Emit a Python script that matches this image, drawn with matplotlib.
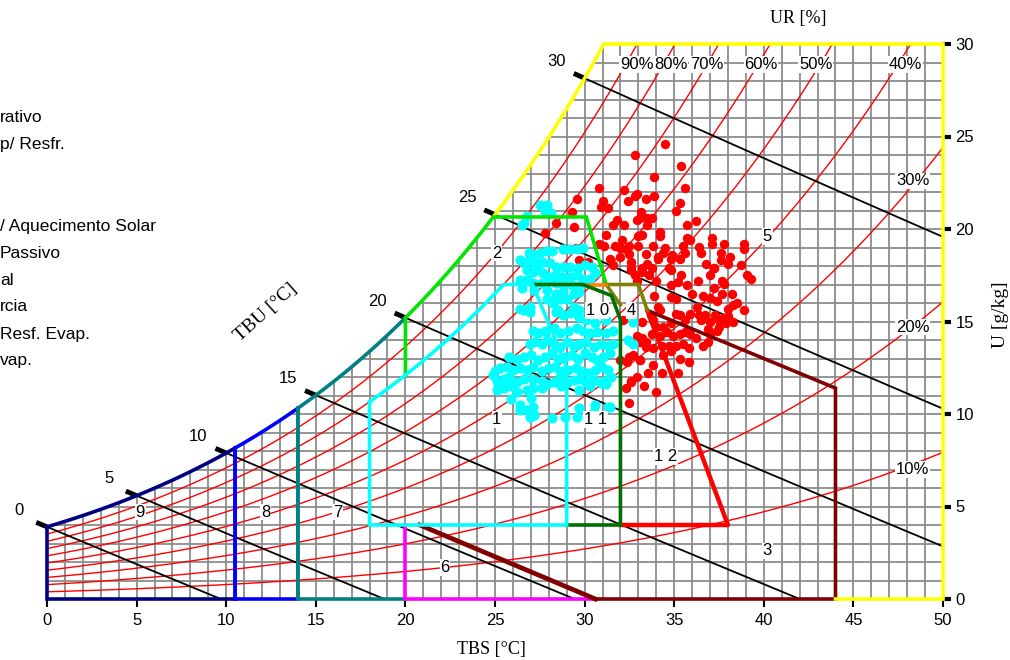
import numpy as np
import matplotlib.pyplot as plt
from matplotlib.patches import Polygon

plt.rcParams['font.family'] = ['Liberation Sans', 'DejaVu Sans']

# pressao atmosferica do local (kPa)
P_ATM = 98.0

# --- dados horarios (TBS [C], U [g/kg]) ---
red_tbs = [34.5, 32.8, 35.4, 33.9, 30.8, 32.2, 35.6, 32.9, 32.8, 29.6, 31.0, 32.4, 33.4, 33.9,
           30.9, 31.3, 35.3, 35.1, 29.3, 33.15, 31.8, 32.9, 33.5, 33.75, 33.1, 31.6, 32.2, 33.5,
           35.7, 36.2, 29.4, 31.2, 32.1, 33.0, 33.2, 34.2, 34.2, 35.7, 35.9, 37.1, 37.1, 37.8,
           38.9, 38.9, 30.8, 31.1, 31.7, 32.0, 32.3, 32.5, 33.0, 33.8, 34.5, 35.5, 36.4, 36.5,
           34.4, 34.1, 34.9, 35.6, 37.6, 38.1, 33.4, 32.45, 32.0, 31.4, 32.6, 33.5, 34.1, 34.8,
           35.3, 36.8, 37.6, 38.0, 31.6, 32.6, 33.2, 34.7, 37.2, 38.7, 29.7, 30.2, 29.5, 27.8,
           28.4,
           32.6, 33.2, 32.8, 33.75, 34.8, 35.4, 35.7, 36.35, 37.0, 37.2, 37.65, 37.8, 38.2, 39.05,
           39.3, 37.2, 36.6, 37.0, 37.4, 37.65, 36.0, 35.1, 34.8, 33.9, 34.1, 34.2, 33.7, 33.8,
           33.2, 34.0, 34.4, 34.8, 35.1, 35.3, 35.6, 35.9, 36.3, 36.4, 36.5, 36.7, 37.0, 37.3,
           37.5, 37.75, 37.9, 38.3, 38.0, 38.3, 37.4, 37.0, 36.9, 36.6, 36.2, 35.9, 35.6, 35.3,
           34.95, 34.6, 34.2, 33.75, 33.2, 33.1, 33.4, 33.8, 34.3, 34.7, 35.1, 35.5, 35.8, 34.8,
           32.7, 33.1, 32.35, 31.95, 33.8, 34.4, 35.3, 35.8, 34.3, 35.2, 32.6, 34.0, 32.45, 33.6,
           34.0, 35.2, 34.8, 32.9,
           32.16, 32.9, 33.4, 32.5, 33.1, 32.6, 32.3, 32.9, 33.55, 33.3,
           38.5, 38.9, 38.0, 37.5, 36.9]
red_u = [24.6, 24.0, 23.4, 22.8, 22.2, 22.1, 22.2, 21.9, 21.8, 21.6, 21.5, 21.5, 21.6, 21.8,
         21.2, 21.15, 21.4, 21.0, 20.9, 20.9, 20.5, 20.5, 20.6, 20.6, 20.6, 20.2, 20.2, 20.2,
         20.2, 20.45, 20.1, 19.7, 19.4, 19.6, 19.7, 19.85, 19.6, 19.5, 19.4, 19.5, 19.2, 19.2,
         19.2, 18.9, 19.2, 19.1, 19.1, 19.0, 18.9, 19.1, 19.1, 19.1, 19.0, 19.1, 19.05, 18.7,
         18.7, 18.5, 18.6, 18.7, 18.7, 18.5, 18.65, 18.65, 18.5, 18.4, 18.2, 18.1, 18.4, 18.4,
         18.4, 18.1, 18.3, 18.1, 18.05, 17.96, 17.9, 17.9, 17.9, 18.05, 18.3, 18.2, 19.0, 19.8,
         20.35,
         17.8, 17.7, 17.5, 17.9, 17.8, 17.5, 16.95, 17.2, 17.5, 17.9, 17.2, 17.05, 16.5, 17.5,
         17.3, 16.8, 16.4, 16.25, 16.1, 16.5, 16.5, 16.2, 16.3, 16.4, 15.8, 15.6, 15.35, 15.1,
         15.0, 14.7, 14.7, 14.9, 15.4, 15.35, 15.1, 15.4, 15.8, 15.35, 15.1, 15.35, 14.99, 15.35,
         15.1, 15.2, 14.9, 14.99, 15.7, 15.9, 14.5, 14.3, 13.9, 13.7, 14.1, 14.3, 14.45, 14.35,
         14.2, 14.45, 14.2, 14.3, 14.1, 13.9, 13.6, 13.55, 13.7, 13.7, 13.7, 13.8, 13.55, 13.4,
         13.2, 12.9, 12.8, 12.9, 12.65, 13.2, 13.0, 12.8, 12.2, 12.2, 11.75, 11.2, 10.6, 17.5,
         17.2, 17.15, 16.95, 17.2,
         15.08, 14.2, 13.9, 13.1, 12.9, 11.8, 11.4, 12.0, 12.2, 11.5,
         16.0, 15.6, 15.3, 14.7, 14.6]

cyan_tbs = [27.9, 28.1, 27.8, 26.8, 26.6, 26.5, 26.9, 27.1, 27.5, 27.9, 28.2, 28.8, 29.2, 29.6,
            29.9, 26.4, 26.6, 26.9, 27.2, 27.6, 28.07, 28.4, 28.8, 29.2, 29.65, 30.0, 30.4, 30.6,
            26.8, 27.1, 27.4, 27.7, 28.07, 28.4, 28.8, 29.2, 29.6, 29.9, 30.3, 26.4, 26.8, 27.1,
            27.6, 27.97, 28.4, 28.8, 29.3, 29.65, 29.9, 26.5, 27.2, 27.9, 28.4, 28.8, 29.4, 29.7,
            26.4, 26.95, 27.9, 28.25, 28.6, 29.0, 29.4, 29.7, 28.5,
            26.6, 26.95, 28.4, 28.8, 29.2, 29.7, 30.1, 30.6, 31.2, 27.1, 27.4, 27.8, 28.3, 28.6,
            29.1, 29.6, 29.9, 30.3, 30.7, 31.2, 31.6, 26.95, 27.2, 27.6, 27.9, 28.3, 28.6, 29.0,
            29.4, 29.7, 30.1, 30.5, 30.9, 31.3, 31.6, 32.7, 25.8, 26.2, 26.6, 27.0, 27.4, 27.8,
            28.2, 28.5, 28.9, 29.3, 29.65, 30.0, 30.4, 30.7, 31.05, 31.4, 25.0, 25.3, 25.65, 26.0,
            26.4, 26.8, 27.1, 27.6, 28.0, 28.35, 28.7, 29.1, 29.5, 29.8, 30.2, 30.6, 30.95, 31.3,
            25.1, 25.5, 25.8, 26.2, 26.6, 27.1, 27.6, 27.9, 28.3, 28.6, 29.0, 29.4, 29.7, 30.1,
            30.5, 30.9, 31.2, 31.5, 25.1, 25.5, 25.9, 26.2, 26.8, 27.1, 27.6, 28.7, 29.7, 30.3,
            31.2, 25.9, 26.4, 26.8, 27.0, 27.1, 27.2, 31.3, 30.5, 29.6, 28.9, 28.2, 26.95, 32.7,
            32.4, 24.9, 25.2, 26.4, 27.2, 29.7, 30.6, 31.4, 27.5]
cyan_u = [21.3, 20.85, 21.0, 20.7, 20.3, 20.2, 18.7, 18.6, 18.7, 18.8, 18.8, 18.9, 18.9, 18.9,
          18.96, 18.3, 18.15, 18.3, 18.2, 18.2, 18.15, 17.97, 17.97, 17.97, 17.9, 18.06, 17.97, 17.6,
          17.8, 17.7, 17.8, 17.6, 17.4, 17.5, 17.4, 17.4, 17.5, 17.3, 17.3, 17.25, 17.25, 17.07,
          17.07, 17.25, 17.07, 16.98, 16.98, 16.9, 17.07, 16.8, 16.7, 16.7, 16.5, 16.6, 16.5, 16.6,
          15.7, 15.8, 16.2, 16.0, 16.2, 16.2, 15.8, 15.6, 15.6,
          15.6, 15.5, 15.5, 15.35, 15.44, 15.26, 15.08, 14.9, 15.08, 14.5, 14.36, 14.5, 14.63, 14.36,
          14.5, 14.63, 14.5, 14.36, 14.45, 14.36, 14.5, 13.8, 13.9, 13.8, 14.0, 13.8, 13.6, 13.9,
          13.7, 13.8, 13.9, 13.6, 13.8, 13.7, 13.8, 13.8, 13.1, 13.0, 13.1, 13.2, 12.9, 13.1,
          13.3, 13.0, 13.1, 13.2, 13.0, 13.3, 13.1, 12.9, 13.1, 13.3, 12.3, 12.5, 12.56, 12.38,
          12.47, 12.38, 12.56, 12.3, 12.47, 12.56, 12.3, 12.38, 12.47, 12.3, 12.2, 12.38, 12.56, 12.38,
          11.8, 11.9, 12.0, 11.75, 11.9, 11.9, 11.8, 11.6, 11.75, 12.0, 11.66, 11.84, 11.9, 11.75,
          11.84, 11.66, 11.84, 12.0, 11.3, 11.4, 11.5, 11.2, 11.3, 11.4, 11.4, 11.5, 11.3, 11.5,
          11.6, 10.8, 10.5, 10.2, 10.85, 10.4, 9.95, 10.4, 10.1, 9.85, 9.85, 9.77, 9.85, 15.0,
          14.0, 12.1, 11.6, 10.2, 9.95, 10.3, 10.5, 10.4, 21.3]

# curvas de umidade relativa
rh_levels = [0.1, 0.2, 0.3, 0.4, 0.5, 0.6, 0.7, 0.8, 0.9]
rh_top_labels = ['90%', '80%', '70%', '60%', '50%', '40%']
rh_top_tbs = [32.9, 34.8, 36.8, 39.85, 42.9, 47.9]
rh_side_labels = ['30%', '20%', '10%']
rh_side_u = [22.6, 14.7, 7.0]

# linhas de bulbo umido
tbu_levels = [0, 5, 10, 15, 20, 25, 30]

# limites das zonas
t_aq_art, t_aq_sol, t_inercia, t_vent = 10.5, 14.0, 20.0, 20.0
conf_tbs = [27.1, 29.0, 29.0, 18.0]
conf_u = [17.0, 12.5, 4.0, 4.0]
vent_top_u = 20.65
vent_tbs = [30.1, 31.2]
vent_u = [20.65, 17.0]
vai_tbs = [27.1, 29.9, 31.5, 32.0, 32.0, 29.0]
vai_u = [17.0, 17.0, 16.4, 15.1, 4.0, 4.0]
ai_tbs = [32.0, 31.2, 33.0, 33.5]
ai_u = [15.9, 17.0, 17.0, 15.6]
aire_tbs = [32.0, 38.0, 33.5]
aire_u = [4.0, 4.0, 15.6]
re_tbs = [33.5, 44.0, 44.0, 30.6]
re_u = [15.6, 11.4, 0.0, 0.0]
re_diag_tbs = [20.8, 30.6]
re_diag_u = [4.0, 0.0]

zone_ids = ['1', '2', '3', '4', '5', '6', '7', '8', '9', '1 0', '1 1', '1 2']
zone_lbl_tbs = [25.1, 25.1, 40.2, 32.6, 40.2, 22.2, 16.2, 12.2, 5.2, 30.7, 30.6, 34.5]
zone_lbl_u = [9.7, 18.7, 2.6, 15.6, 19.6, 1.7, 4.7, 4.7, 4.7, 15.6, 9.7, 7.7]

legend_visible = ['rativo', 'p/ Resfr.', '', '', '/ Aquecimento Solar', 'Passivo',
                  'al', 'rcia', 'Resf. Evap.', 'vap.']


def p_ws(t):
    return 0.61078 * np.exp(17.27 * t / (t + 237.3))


def w_rh(t, rh):
    pv = rh * p_ws(t)
    return 622.0 * pv / (P_ATM - pv)


def w_wb(t, twb):
    ws = w_rh(twb, 1.0) / 1000.0
    return 1000.0 * ((2501 - 2.326 * twb) * ws - 1.006 * (t - twb)) / (2501 + 1.86 * t - 4.186 * twb)


def t_at_w(w, rh=1.0):
    tt = np.linspace(-5, 60, 6501)
    return np.interp(w, w_rh(tt, rh), tt)


def sat(t0, t1):
    t = np.linspace(t0, t1, 80)
    return t, w_rh(t, 1.0)


t_sat30 = float(t_at_w(30.0))

fig = plt.figure(figsize=(10.1, 6.6), dpi=100)
ax = fig.add_axes([0, 0, 1, 1])
ax.set_xlim(-47 / 17.92, (1010 - 47) / 17.92)
ax.set_ylim((599 - 660) / 18.5, 599 / 18.5)

# regiao da carta
ts, ws = sat(0, t_sat30)
region = Polygon([(0, 0)] + list(zip(ts, ws)) + [(50, 30), (50, 0)], closed=True,
                 transform=ax.transData, facecolor='none', edgecolor='none')
ax.add_patch(region)

# grade
gx = np.arange(0, 51)
ax.vlines(gx, 0, np.minimum(30, w_rh(gx, 1.0)), color='#8c8c8c', lw=1.3, zorder=1)
gy = np.arange(1, 30)
ax.hlines(gy, np.maximum(0, t_at_w(gy)), 50, color='#8c8c8c', lw=1.3, zorder=1)

# UR
t = np.linspace(0, 50, 400)
for rh in rh_levels:
    ax.plot(t, w_rh(t, rh), color='red', lw=1.0, zorder=2, clip_path=region)
box = dict(facecolor='white', edgecolor='none', pad=0.5)
for lbl, x in zip(rh_top_labels, rh_top_tbs):
    ax.text(x, 28.9, lbl, ha='center', va='center', fontsize=12, bbox=box, zorder=7)
for lbl, y in zip(rh_side_labels, rh_side_u):
    ax.text(48.3, y, lbl, ha='center', va='center', fontsize=12, bbox=box, zorder=7)

# TBU
for twb in tbu_levels:
    tt = np.linspace(twb, 50, 300)
    ww = w_wb(tt, twb)
    keep = ww >= 0
    ax.plot(tt[keep], ww[keep], color='black', lw=1.3, zorder=3)
    tk = np.array([twb - 0.6, twb])
    ax.plot(tk, w_wb(tk, twb), color='black', lw=3.5, solid_capstyle='butt', zorder=3)
    ax.annotate(str(twb), (twb, w_rh(twb, 1.0)), xytext=(-20, 12), textcoords='offset points',
                ha='center', va='center', fontsize=12)

# pontos
ax.scatter(red_tbs, red_u, s=46, color='red', linewidths=0, zorder=4)
ax.scatter(cyan_tbs, cyan_u, s=54, color='cyan', linewidths=0, zorder=5)

lw = 2.6
kw = dict(lw=lw, zorder=6, solid_joinstyle='miter')
# 9 aquecimento artificial
x, y = sat(0, t_aq_art)
ax.plot(np.r_[t_aq_art, 0, 0, x], np.r_[0, 0, y[0], y], color='#000080', **kw)
# 8 aquecimento solar passivo
x, y = sat(t_aq_art, t_aq_sol)
ax.plot(np.r_[t_aq_sol, t_aq_art, x], np.r_[0, 0, y], color='#0000ff', **kw)
ax.plot([t_aq_art, t_aq_art], [0, y[0]], color='#0000ff', **kw)
# 7 alta inercia / aquecimento solar
x, y = sat(t_aq_sol, t_inercia)
ax.plot(np.r_[t_inercia, t_aq_sol, x], np.r_[0, 0, y], color='#008080', **kw)
ax.plot([t_aq_sol, t_aq_sol], [0, y[0]], color='#008080', **kw)
# 6 umidificacao
ax.plot([20, 20, re_diag_tbs[1]], [4, 0, 0], color='#ff00ff', **kw)
# 3 resfriamento evaporativo
ax.plot(re_tbs, re_u, color='#800000', **kw)
ax.plot(re_diag_tbs, re_diag_u, color='#800000', lw=3.4, zorder=6)
# 5 ar condicionado
t_v = float(t_at_w(vent_top_u))
x, y = sat(t_v, t_sat30)
ax.plot(np.r_[x, 50, 50, 44], np.r_[y, 30, 0, 0], color='#ffff00', **kw)
# 2 ventilacao
x, y = sat(t_vent, t_v)
w80 = float(w_rh(t_vent, 0.8))
ax.plot(np.r_[t_vent, x, vent_tbs], np.r_[w80, y, vent_u], color='#00e600', **kw)
# 12 alta inercia / resf. evap.
ax.plot(aire_tbs, aire_u, color='#ff0000', lw=3.2, zorder=6)
# 4 alta inercia p/ resfr.
ax.plot(ai_tbs, ai_u, color='#808000', **kw)
ax.plot([vai_tbs[1], ai_tbs[1]], [17.0, 17.0], color='#ff7f00', **kw)
# 10 ventilacao / alta inercia
ax.plot(vai_tbs, vai_u, color='#006e00', **kw)
# 1 conforto
t_c = float(t_at_w(conf_u[0], 0.8))
x = np.linspace(conf_tbs[3], t_c, 60)
ax.plot(np.r_[x, conf_tbs, conf_tbs[3]], np.r_[w_rh(x, 0.8), conf_u, w_rh(conf_tbs[3], 0.8)],
        color='#00ffff', **kw)

# numeros das zonas
for lbl, x, y in zip(zone_ids, zone_lbl_tbs, zone_lbl_u):
    ax.text(x, y, lbl, ha='center', va='center', fontsize=12, bbox=box, zorder=7)

# eixos
ax.spines['bottom'].set_position(('data', 0))
ax.spines['right'].set_position(('data', 50))
for s in ax.spines.values():
    s.set_color('none')
ax.yaxis.tick_right()
ax.set_xticks(range(0, 51, 5))
ax.set_yticks(range(0, 31, 5))
ax.tick_params(axis='x', length=6, width=1.5, pad=4, labelsize=12)
ax.tick_params(axis='y', length=6, width=3, pad=3, labelsize=12)
ax.tick_params(top=False, left=False, labelleft=False)

serif = ['Liberation Serif', 'DejaVu Serif']
ax.text(41.9, 31.4, 'UR [%]', ha='center', va='center', fontsize=13, family=serif)
ax.text(24.8, -2.75, 'TBS [°C]', ha='center', va='center', fontsize=13, family=serif)
ax.text(53.2, 15.35, 'U [g/kg]', ha='center', va='center', fontsize=14, family=serif,
        rotation=90)
ax.text(12.2, 15.5, 'TBU [°C]', ha='center', va='center', fontsize=14, family=serif,
        rotation=42)

# legenda (cortada na margem)
for i, txt in enumerate(legend_visible):
    fig.text(0.0, 1 - (118 + 27 * i) / 660, txt, ha='left', va='center', fontsize=12.5)

fig.savefig('out.png', dpi=100, facecolor='white')
